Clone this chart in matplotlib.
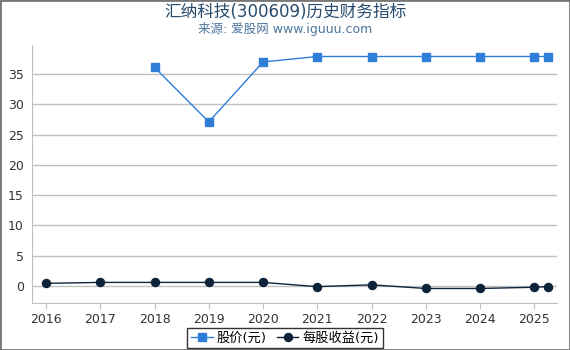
import matplotlib
matplotlib.use("Agg")
import matplotlib.pyplot as plt

plt.rcParams["font.family"] = ["DejaVu Sans", "Noto Sans CJK SC"]

# 数据
years = [2016, 2017, 2018, 2019, 2020, 2021, 2022, 2023, 2024, 2025, 2025.25]
price = [None, None, 36.1, 27.1, 37.0, 37.9, 37.9, 37.9, 37.9, 37.9, 37.9]
eps = [0.45, 0.6, 0.6, 0.6, 0.6, -0.1, 0.2, -0.4, -0.4, -0.2, -0.1]
xticks = [2016, 2017, 2018, 2019, 2020, 2021, 2022, 2023, 2024, 2025]
yticks = [0, 5, 10, 15, 20, 25, 30, 35]

PRICE_C = "#2f7ed8"
EPS_C = "#0d233a"

fig = plt.figure(figsize=(5.7, 3.5), dpi=100)
ax = fig.add_axes([32 / 570, 1 - 303 / 350, 525 / 570, 258 / 350])

px = [x for x, p in zip(years, price) if p is not None]
py = [p for p in price if p is not None]
ax.plot(px, py, color=PRICE_C, lw=1, marker="s", ms=5.8, label="股价(元)", zorder=3)
ax.plot(years, eps, color=EPS_C, lw=1, marker="o", ms=5.8, label="每股收益(元)", zorder=3)

ax.set_xlim(2015.74, 2025.42)
ax.set_ylim(-2.8, 39.8)
ax.set_xticks(xticks)
ax.set_yticks(yticks)
ax.grid(axis="y", color="#c0c0c0", lw=1)
ax.set_axisbelow(True)
for s in ("top", "right"):
    ax.spines[s].set_visible(False)
ax.spines["left"].set_color("#c0c0c0")
ax.spines["bottom"].set_color("#c0c0c0")
ax.tick_params(axis="y", length=0, labelsize=9, colors="#333333", pad=6)
ax.tick_params(axis="x", length=4, color="#c0c0c0", labelsize=9, labelcolor="#333333")

fig.text(0.5, 0.967, "汇纳科技(300609)历史财务指标", ha="center", va="center",
         fontsize=12, color="#274b6d")
fig.text(0.5, 0.918, "来源: 爱股网 www.iguuu.com", ha="center", va="center",
         fontsize=9, color="#4d759e")

leg = fig.legend(loc="center", ncol=2, fontsize=9.5, frameon=True, fancybox=False,
                 handlelength=1.6, handletextpad=0.3, columnspacing=0.8, borderpad=0.3)
leg.set_bbox_to_anchor((0.5, 1 - 338 / 350), transform=fig.transFigure)
leg.get_frame().set_edgecolor("black")
leg.get_frame().set_linewidth(1)

# 外框
fig.patches.append(plt.Rectangle((0, 0), 1, 1, transform=fig.transFigure,
                                 fill=False, edgecolor="#777777", lw=2))

fig.savefig("out.png", dpi=100)
